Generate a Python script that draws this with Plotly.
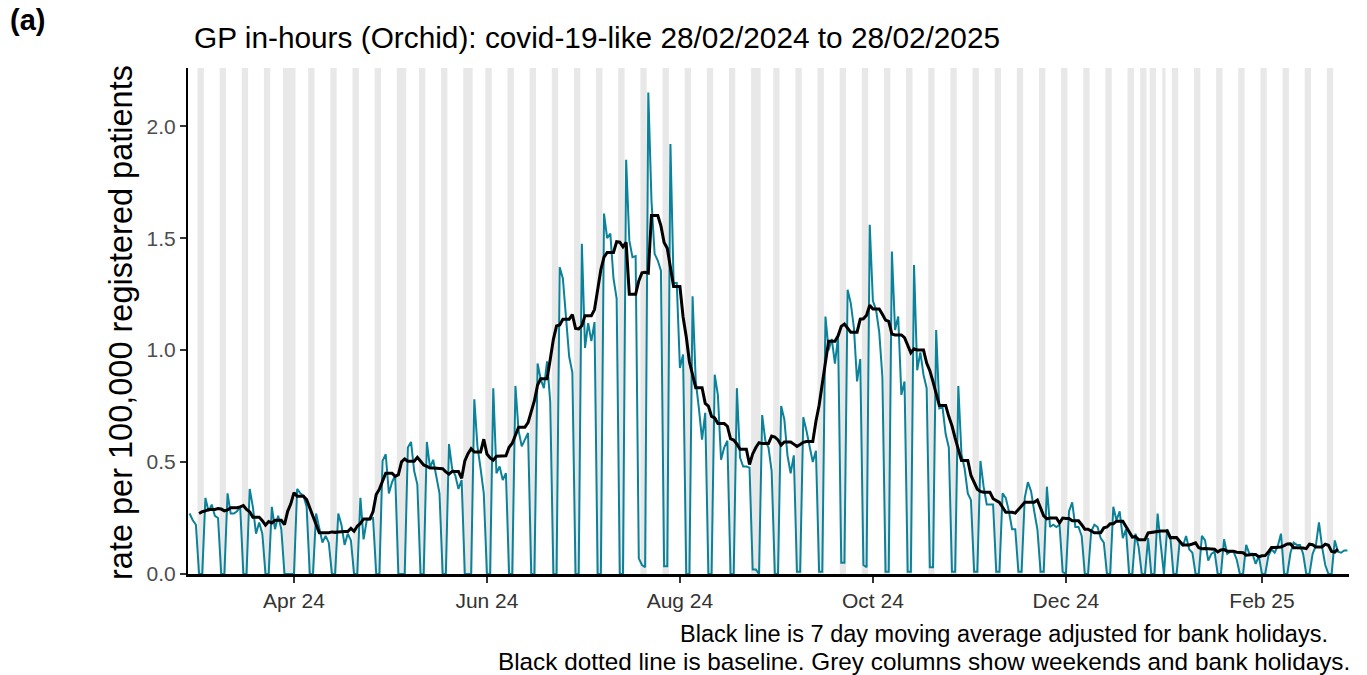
import numpy as np
import pandas as pd
import plotly.graph_objects as go

# ---------------- data ----------------
start_date = "2024-02-28"

# daily rate per 100,000 registered patients, 28/02/2024 .. 28/02/2025
daily_rate = [
    0.27, 0.24, 0.22, 0.0, 0.0,                      # Wed 28 Feb - Sun 3 Mar
    0.34, 0.28, 0.31, 0.26, 0.25, 0.0, 0.0,          # w/c 4 Mar
    0.36, 0.27, 0.27, 0.28, 0.30, 0.0, 0.0,          # 11 Mar
    0.38, 0.30, 0.18, 0.23, 0.18, 0.0, 0.0,          # 18 Mar
    0.30, 0.20, 0.26, 0.20, 0.0, 0.0, 0.0,           # 25 Mar (Good Friday)
    0.0, 0.38, 0.36, 0.35, 0.30, 0.0, 0.0,           # 1 Apr (Easter Monday)
    0.27, 0.20, 0.14, 0.17, 0.14, 0.0, 0.0,          # 8 Apr
    0.27, 0.22, 0.13, 0.18, 0.15, 0.0, 0.0,          # 15 Apr
    0.34, 0.155, 0.24, 0.245, 0.25, 0.0, 0.0,        # 22 Apr
    0.505, 0.535, 0.36, 0.41, 0.44, 0.0, 0.0,        # 29 Apr
    0.0, 0.565, 0.59, 0.46, 0.40, 0.0, 0.0,          # 6 May (bank holiday)
    0.59, 0.475, 0.51, 0.43, 0.36, 0.0, 0.0,         # 13 May
    0.58, 0.47, 0.44, 0.38, 0.42, 0.0, 0.0,          # 20 May
    0.0, 0.78, 0.57, 0.47, 0.36, 0.0, 0.0,           # 27 May (bank holiday)
    0.83, 0.45, 0.48, 0.42, 0.45, 0.0, 0.0,          # 3 Jun
    0.84, 0.64, 0.57, 0.60, 0.63, 0.0, 0.0,          # 10 Jun
    0.94, 0.87, 0.83, 0.95, 0.77, 0.0, 0.0,          # 17 Jun
    1.37, 1.32, 1.13, 0.97, 0.90, 0.0, 0.0,          # 24 Jun
    1.475, 1.01, 1.12, 1.04, 1.125, 0.0, 0.0,        # 1 Jul
    1.61, 1.50, 1.52, 1.32, 1.23, 0.0, 0.0,          # 8 Jul
    1.85, 1.49, 1.415, 1.42, 0.07, 0.04, 0.03,       # 15 Jul
    2.15, 1.67, 1.43, 1.40, 1.355, 0.035, 0.035,     # 22 Jul
    1.92, 1.30, 1.30, 0.92, 0.98, 0.0, 0.0,          # 29 Jul
    1.24, 0.86, 0.74, 0.60, 0.72, 0.0, 0.0,          # 5 Aug
    0.89, 0.80, 0.51, 0.565, 0.595, 0.0, 0.0,        # 12 Aug
    0.83, 0.52, 0.48, 0.48, 0.475, 0.02, 0.02,       # 19 Aug
    0.0, 0.71, 0.595, 0.565, 0.46, 0.0, 0.0,         # 26 Aug (bank holiday)
    0.75, 0.69, 0.53, 0.45, 0.53, 0.01, 0.01,        # 2 Sep
    0.70, 0.64, 0.57, 0.50, 0.55, 0.01, 0.01,        # 9 Sep
    1.15, 1.00, 1.05, 0.94, 1.06, 0.05, 0.05,        # 16 Sep
    1.27, 1.21, 1.10, 0.86, 0.96, 0.04, 0.03,        # 23 Sep
    1.56, 1.22, 1.18, 1.08, 0.88, 0.01, 0.01,        # 30 Sep
    1.44, 1.09, 1.15, 0.80, 0.86, 0.01, 0.01,        # 7 Oct
    1.38, 0.91, 0.99, 0.89, 0.83, 0.03, 0.03,        # 14 Oct
    1.09, 0.74, 0.745, 0.625, 0.565, 0.01, 0.01,     # 21 Oct
    0.84, 0.535, 0.47, 0.36, 0.33, 0.01, 0.01,       # 28 Oct
    0.505, 0.39, 0.31, 0.31, 0.31, 0.01, 0.01,       # 4 Nov
    0.36, 0.34, 0.28, 0.20, 0.20, 0.01, 0.01,        # 11 Nov
    0.34, 0.41, 0.37, 0.28, 0.20, 0.01, 0.01,        # 18 Nov
    0.39, 0.21, 0.22, 0.21, 0.22, 0.01, 0.0,         # 25 Nov
    0.28, 0.32, 0.21, 0.21, 0.17, 0.0, 0.0,          # 2 Dec
    0.19, 0.22, 0.21, 0.16, 0.14, 0.0, 0.0,          # 9 Dec
    0.30, 0.24, 0.28, 0.16, 0.20, 0.0, 0.0,          # 16 Dec
    0.18, 0.12, 0.0, 0.0, 0.16, 0.0, 0.0,            # 23 Dec (Christmas)
    0.27, 0.13, 0.0, 0.20, 0.17, 0.0, 0.0,           # 30 Dec (New Year)
    0.15, 0.125, 0.17, 0.11, 0.095, 0.0, 0.0,        # 6 Jan
    0.17, 0.15, 0.06, 0.09, 0.10, 0.0, 0.0,          # 13 Jan
    0.155, 0.09, 0.10, 0.10, 0.065, 0.0, 0.0,        # 20 Jan
    0.13, 0.09, 0.09, 0.045, 0.08, 0.0, 0.0,         # 27 Jan
    0.08, 0.11, 0.095, 0.125, 0.18, 0.0, 0.0,        # 3 Feb
    0.095, 0.14, 0.13, 0.13, 0.09, 0.0, 0.0,         # 10 Feb
    0.09, 0.125, 0.23, 0.12, 0.04, 0.0, 0.0,         # 17 Feb
    0.15, 0.10, 0.095, 0.105, 0.105,                 # 24 - 28 Feb
]

bank_holidays = ["2024-03-29", "2024-04-01", "2024-05-06", "2024-05-27",
                 "2024-08-26", "2024-12-25", "2024-12-26", "2025-01-01"]

tick_dates = ["2024-04-01", "2024-06-01", "2024-08-01",
              "2024-10-01", "2024-12-01", "2025-02-01"]
tick_labels = ["Apr 24", "Jun 24", "Aug 24", "Oct 24", "Dec 24", "Feb 25"]

y_ticks = [0.0, 0.5, 1.0, 1.5, 2.0]

title_text = "GP in-hours (Orchid): covid-19-like 28/02/2024 to 28/02/2025"
y_title = "rate per 100,000 registered patients"
caption_1 = "Black line is 7 day moving average adjusted for bank holidays."
caption_2 = "Black dotted line is baseline. Grey columns show weekends and bank holidays."

# ---------------- derived series ----------------
dates = pd.date_range(start_date, periods=len(daily_rate), freq="D")
rate = pd.Series(daily_rate, index=dates)
hol = pd.to_datetime(bank_holidays)
off_day = (dates.dayofweek >= 5) | dates.isin(hol)

# 7-day centred moving average over working days only
working = rate.where(~off_day)
ma = working.rolling(7, center=True, min_periods=1).mean()
ma.iloc[:3] = np.nan
ma.iloc[-3:] = np.nan

FONT = "Liberation Sans, Arial, Helvetica, sans-serif"
W, H = 1367, 675
ML, MR, MT, MB = 188, 18, 68, 101
PW, PH = W - ML - MR, H - MT - MB


def px(xp):
    return (xp - ML) / PW


def py(yp):
    return (H - MB - yp) / PH


fig = go.Figure()

# grey columns for weekends / bank holidays
shapes = []
run_start = None
prev = None
for d, is_off in zip(list(dates) + [None], list(off_day) + [False]):
    if is_off:
        if run_start is None:
            run_start = d
        prev = d
    elif run_start is not None:
        shapes.append(dict(type="rect", xref="x", yref="paper",
                           x0=run_start - pd.Timedelta(hours=12),
                           x1=prev + pd.Timedelta(hours=12),
                           y0=0, y1=1, fillcolor="#E8E8E8",
                           line=dict(width=0), layer="below"))
        run_start = None

fig.add_trace(go.Scatter(x=dates, y=rate.values, mode="lines",
                         line=dict(color="#0B8299", width=2),
                         showlegend=False, hoverinfo="x+y"))
fig.add_trace(go.Scatter(x=dates, y=ma.values, mode="lines",
                         line=dict(color="black", width=3),
                         showlegend=False, hoverinfo="x+y"))

fig.update_layout(
    width=W, height=H,
    margin=dict(l=ML, r=MR, t=MT, b=MB),
    paper_bgcolor="white", plot_bgcolor="white",
    font=dict(family=FONT, color="#333333"),
    shapes=shapes,
    showlegend=False,
    xaxis=dict(
        range=["2024-02-27 12:00", "2025-02-28 12:00"],
        tickvals=tick_dates, ticktext=tick_labels,
        showgrid=False, zeroline=False,
        showline=True, linecolor="black", linewidth=2.5,
        ticks="outside", ticklen=6, tickwidth=1.5, tickcolor="#333333",
        tickfont=dict(size=21, color="#333333", family=FONT),
    ),
    yaxis=dict(
        range=[0, 2.26],
        tickvals=y_ticks, ticktext=[f"{v:.1f}" for v in y_ticks],
        showgrid=False, zeroline=False,
        showline=True, linecolor="black", linewidth=2,
        ticks="outside", ticklen=6, tickwidth=1.5, tickcolor="#333333",
        tickfont=dict(size=21, color="#4D4D4D", family=FONT),
    ),
    annotations=[
        dict(text="<b>(a)</b>", xref="paper", yref="paper",
             x=px(8), y=py(20),
             xanchor="left", yanchor="middle", showarrow=False,
             font=dict(size=29, color="black", family=FONT)),
        dict(text=title_text, xref="paper", yref="paper",
             x=px(192), y=py(38),
             xanchor="left", yanchor="middle", showarrow=False,
             font=dict(size=29.8, color="black", family=FONT)),
        dict(text=y_title, xref="paper", yref="paper",
             x=px(121), y=py(323), textangle=-90,
             xanchor="center", yanchor="middle", showarrow=False,
             font=dict(size=32.5, color="black", family=FONT)),
        dict(text=caption_1, xref="paper", yref="paper",
             x=px(1330), y=py(634),
             xanchor="right", yanchor="middle", showarrow=False,
             font=dict(size=23.5, color="black", family=FONT)),
        dict(text=caption_2, xref="paper", yref="paper",
             x=px(1352), y=py(661),
             xanchor="right", yanchor="middle", showarrow=False,
             font=dict(size=24.3, color="black", family=FONT)),
    ],
)

fig.write_html("out.html",
               config={"displayModeBar": False},
               post_script="document.body.style.margin='0px';"
                           "document.body.style.overflow='hidden';")
